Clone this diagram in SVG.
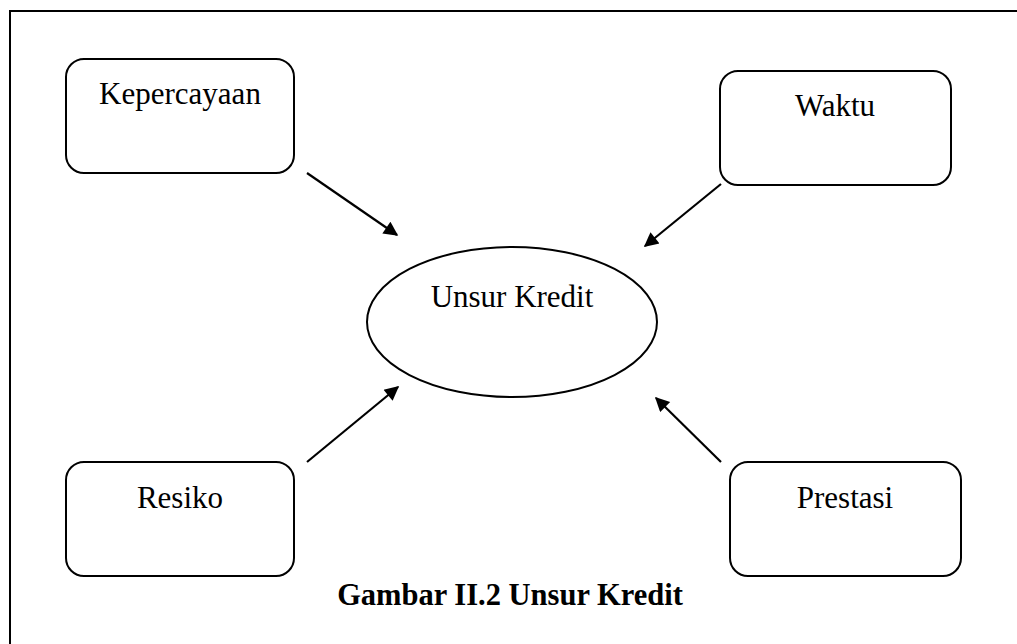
<svg xmlns="http://www.w3.org/2000/svg" width="1017" height="644" viewBox="0 0 1017 644">
<style>
.box{fill:#fff;stroke:#000;stroke-width:2}
.lbl{font-family:"Liberation Serif","Times New Roman",serif;font-size:31px;fill:#000;text-anchor:middle}
.cap{font-family:"Liberation Serif","Times New Roman",serif;font-size:30.5px;font-weight:bold;fill:#000;text-anchor:middle}
.edge{stroke:#000;stroke-width:2.2;fill:none;marker-end:url(#ah)}
</style>
<defs>
<marker id="ah" viewBox="0 0 10 10" refX="9" refY="5" markerWidth="7.5" markerHeight="6.5" orient="auto" markerUnits="strokeWidth">
<path d="M0,0 L10,5 L0,10 z" fill="#000"/>
</marker>
</defs>
<rect width="1017" height="644" fill="#fff"/>
<path d="M10,644 V11 H1017" fill="none" stroke="#000" stroke-width="2"/>
<g id="kepercayaan">
<rect class="box" x="66" y="59" width="228" height="114" rx="18"/>
<text class="lbl" x="180" y="104">Kepercayaan</text>
</g>
<g id="waktu">
<rect class="box" x="720" y="71" width="231" height="114" rx="18"/>
<text class="lbl" x="835" y="116">Waktu</text>
</g>
<g id="unsur-kredit">
<ellipse class="box" cx="512" cy="322" rx="145" ry="75"/>
<text class="lbl" x="512" y="307">Unsur Kredit</text>
</g>
<g id="resiko">
<rect class="box" x="66" y="462" width="228" height="114" rx="18"/>
<text class="lbl" x="180" y="508">Resiko</text>
</g>
<g id="prestasi">
<rect class="box" x="730" y="462" width="231" height="114" rx="18"/>
<text class="lbl" x="845" y="508">Prestasi</text>
</g>
<g id="connectors">
<line class="edge" x1="307" y1="173" x2="397" y2="235"/>
<line class="edge" x1="721" y1="184" x2="645" y2="246"/>
<line class="edge" x1="307" y1="462" x2="398" y2="387"/>
<line class="edge" x1="721" y1="462" x2="656" y2="398"/>
</g>
<g id="caption">
<text class="cap" x="510" y="605">Gambar II.2 Unsur Kredit</text>
</g>
</svg>
